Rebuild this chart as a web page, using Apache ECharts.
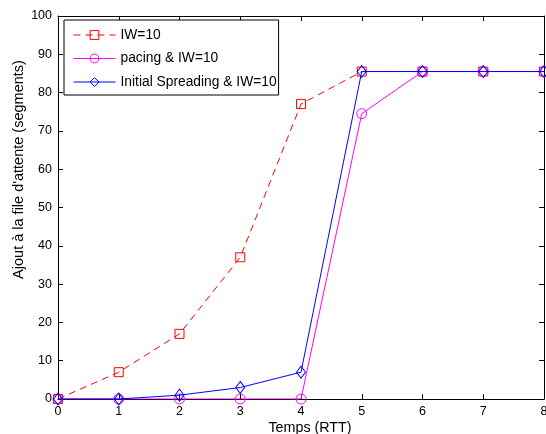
<!DOCTYPE html>
<html><head><meta charset="utf-8">
<script src="https://cdn.jsdelivr.net/npm/echarts@6/dist/echarts.min.js"></script>
<style>html,body{margin:0;padding:0;background:#fff}#c{width:546px;height:434px}</style>
</head><body><div id="c"></div>
<script>
const xValues = [0,1,2,3,4,5,6,7,8];
const iw10 = [0,7,17,37,77,85.5,85.5,85.5,85.5];
const pacing = [0,0,0,0,0,74.5,85.5,85.5,85.5];
const spreading = [0,0,1,3,7,85.5,85.5,85.5,85.5];
const names = ['IW=10','pacing & IW=10','Initial Spreading & IW=10'];

const font = 'Liberation Sans, Arial, sans-serif';
const pair = a => xValues.map((x,i)=>[x,a[i]]);
const axisCommon = {
  axisLine:{show:true,onZero:false,lineStyle:{color:'#000',width:1}},
  axisTick:{show:true,inside:true,length:5,lineStyle:{color:'#000',width:1}},
  splitLine:{show:false},
  nameMoveOverlap:false
};
const chart = echarts.init(document.getElementById('c'));
chart.setOption({
  animation:false,
  textStyle:{fontFamily:font},
  grid:{left:58,right:2,top:16,bottom:35,containLabel:false,outerBoundsMode:'none'},
  legend:{
    data:names, orient:'vertical', left:64, top:20,
    backgroundColor:'#fff', borderColor:'#000', borderWidth:1,
    padding:[8,2,6,9], itemGap:9.5, itemWidth:42, itemHeight:11,
    lineStyle:{width:1}, itemStyle:{borderWidth:1},
    textStyle:{fontFamily:font,fontSize:13.8,color:'#000'}
  },
  xAxis:[
    Object.assign({type:'value',min:0,max:8,interval:1,position:'bottom',
      name:'Temps (RTT)',nameLocation:'middle',nameGap:22,
      nameTextStyle:{fontFamily:font,fontSize:14.3,color:'#000',padding:[0,0,0,18]},
      axisLabel:{color:'#000',fontSize:12.5,margin:6,fontFamily:font}},axisCommon),
    Object.assign({type:'value',min:0,max:8,interval:1,position:'top',
      axisLabel:{show:false}},axisCommon)
  ],
  yAxis:[
    Object.assign({type:'value',min:0,max:100,interval:10,position:'left',
      name:"Ajout à la file d'attente (segments)",nameLocation:'middle',nameGap:32,
      nameTextStyle:{fontFamily:font,fontSize:14.5,color:'#000',padding:[0,0,0,76]},
      axisLabel:{color:'#000',fontSize:12.5,margin:6,fontFamily:font}},axisCommon),
    Object.assign({type:'value',min:0,max:100,interval:10,position:'right',
      axisLabel:{show:false}},axisCommon)
  ],
  series:[
    {name:names[0],type:'line',data:pair(iw10),symbol:'rect',symbolSize:9,
      lineStyle:{color:'#ff0000',width:1,type:[7,5]},
      itemStyle:{color:'rgba(0,0,0,0)',borderColor:'#ff0000',borderWidth:1},color:'#ff0000',z:2},
    {name:names[1],type:'line',data:pair(pacing),symbol:'circle',symbolSize:10,
      lineStyle:{color:'#ff00ff',width:1},
      itemStyle:{color:'rgba(0,0,0,0)',borderColor:'#ff00ff',borderWidth:1},color:'#ff00ff',z:3},
    {name:names[2],type:'line',data:pair(spreading),symbol:'diamond',symbolSize:[9,12],
      lineStyle:{color:'#0000ff',width:1},
      itemStyle:{color:'rgba(0,0,0,0)',borderColor:'#0000ff',borderWidth:1},color:'#0000ff',z:4}
  ]
});
</script></body></html>
